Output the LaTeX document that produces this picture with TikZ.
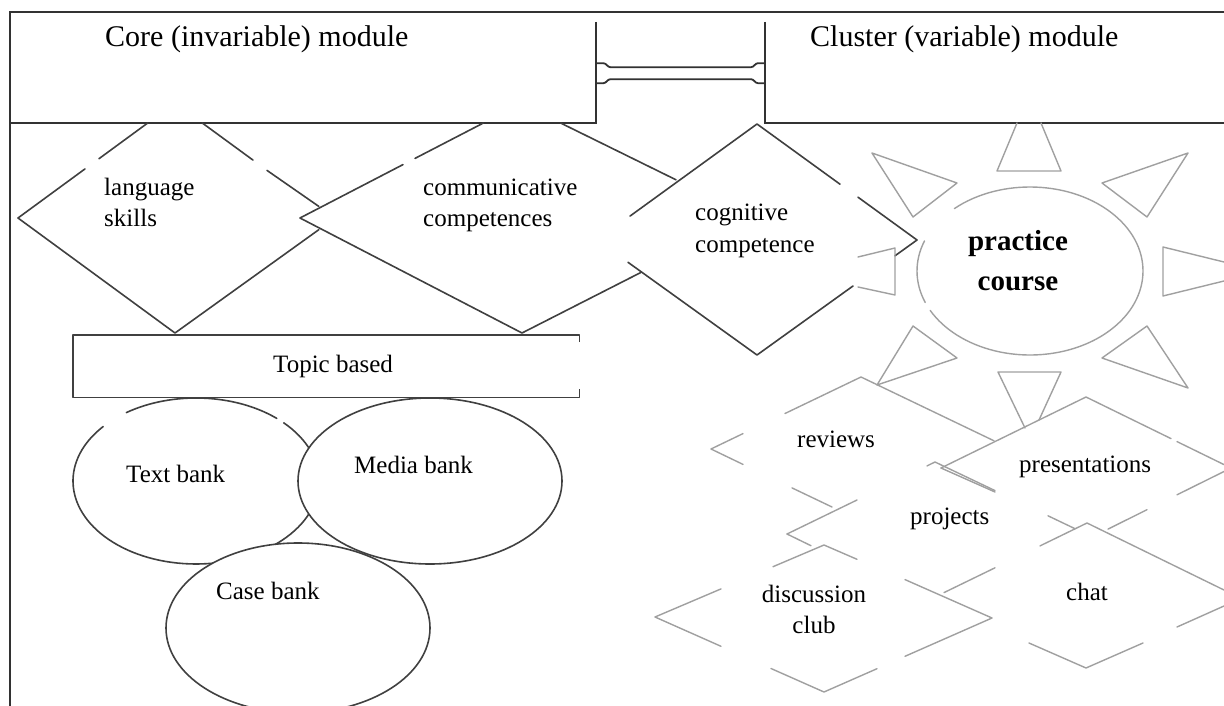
\documentclass[tikz,border=0pt]{standalone}
\usepackage{fontspec}
\setmainfont{Liberation Serif}
\usetikzlibrary{calc}
\definecolor{dkline}{RGB}{64,64,64}
\definecolor{bxline}{RGB}{50,50,50}
\definecolor{ltline}{RGB}{160,160,160}
\begin{document}
\begin{tikzpicture}[x=1pt,y=-1pt,
  dk/.style={draw=dkline, line width=1.6pt, line cap=round, line join=round},
  bx/.style={draw=bxline, line width=2pt},
  lg/.style={draw=ltline, line width=1.4pt, line cap=round, line join=round},
  cn/.style={draw=bxline, line width=1.8pt},
  lbl/.style={font=\fontsize{25}{31}\selectfont, inner sep=0pt, anchor=base west, align=left},
  ttl/.style={font=\fontsize{30}{36}\selectfont, inner sep=0pt, anchor=base west},
  boxnode/.style={minimum width=#1, inner sep=0pt, anchor=north west},
]
\useasboundingbox (0,0) rectangle (1224,706);
\clip (0,0) rectangle (1224,706);
\fill[white] (0,0) rectangle (1224,706);

% outer frame
\draw[bx] (10,706) -- (10,12) -- (1224,12);

% module boxes
\node[boxnode=586pt, minimum height=111pt] (core) at (10,12) {};
\node[boxnode=459pt, minimum height=111pt] (cluster) at (765,12) {};
\draw[bx] ([yshift=-10pt]core.north east) -- (core.south east) -- (core.south west);
\draw[bx] ([yshift=-10pt]cluster.north west) -- (cluster.south west) -- (cluster.south east);

% double connector between the modules
\draw[cn] (core.east) ++(0,-4.5) -- ++(7,0) .. controls +(3,0) and +(-3,0) .. ++(7,4)
  -- ($(cluster.west)+(-14,-0.5)$) .. controls +(3,0) and +(-3,0) .. ++(7,-4) -- ++(7,0);
\draw[cn] (core.east) ++(0,15.5) -- ++(7,0) .. controls +(3,0) and +(-3,0) .. ++(7,-4)
  -- ($(cluster.west)+(-14,11.5)$) .. controls +(3,0) and +(-3,0) .. ++(7,4) -- ++(7,0);

% language skills diamond
\draw[dk] (147.7,123) -- (99,158.7);
\draw[dk] (85,168.9) -- (18,218) -- (175,333) -- (318.8,229.7);
\draw[dk] (202.3,123) -- (253,160.1);
\draw[dk] (267,170.4) -- (318.8,206.4);
% communicative competences diamond
\draw[dk] (483.4,123) -- (415,158.4);
\draw[dk] (403,164.6) -- (300,218) -- (522,333) -- (640.8,272.5);
\draw[dk] (560.6,123) -- (676,179.8);
% cognitive competence diamond
\draw[dk] (630,216.1) -- (757,124) -- (840,184.2);
\draw[dk] (858,197.2) -- (917,240) -- (895,255.8);
\draw[dk] (853,286) -- (757,355) -- (628,262.3);

% topic box
\node[boxnode=506pt, minimum height=62pt] (topic) at (73,335) {};
\draw[dk, line cap=butt] ([yshift=-7pt]topic.north east) -- (topic.north east) -- (topic.north west)
  -- (topic.south west) -- (topic.south east) -- ([yshift=8pt]topic.south east);

% banks
\draw[dk] (196,481) ++(-124.5:123 and 83) arc[start angle=-124.5, end angle=-49, x radius=123, y radius=83];
\draw[dk] (196,481) ++(-44.5:123 and 83) arc[start angle=-44.5, end angle=221, x radius=123, y radius=83];
\draw[dk, fill=white] (430,481) ellipse [x radius=132, y radius=83];
\draw[dk, fill=white] (298,628) ellipse [x radius=132, y radius=85];

% sun around practice course
\draw[lg] (1030,271) ++(-132:113 and 84) arc[start angle=-132, end angle=152, x radius=113, y radius=84];
\draw[lg] (1030,271) ++(158:113 and 84) arc[start angle=158, end angle=201, x radius=113, y radius=84];
\draw[lg] (1017,123) -- (997,171) -- (1061,171) -- (1041,123);
\draw[lg] (1188,153) -- (1102,183) -- (1147,217) -- cycle;
\draw[lg] (1224,262) -- (1163,247) -- (1163,296) -- (1224,281);
\draw[lg] (1102,358) -- (1147,326) -- (1188,388) -- cycle;
\draw[lg] (1025,428) -- (998,372) -- (1061,372) -- (1039,420);
\draw[lg] (913,326) -- (957,358) -- (877,385) -- cycle;
\draw[lg] (858,257) -- (895,248) -- (895,295) -- (858,287);
\draw[lg] (872,153) -- (957,183) -- (913,217) -- cycle;

% cluster diamonds
% reviews
\draw[lg] (785,413.5) -- (861,377) -- (994,440.8);
\draw[lg] (743,433.6) -- (711,449) -- (743,464.4);
\draw[lg] (792,487.9) -- (832,507);
% presentations
\draw[lg] (941,468) -- (1086,397) -- (1171,438.6);
\draw[lg] (1177,441.6) -- (1224,464.6);
\draw[lg] (941,468) -- (995,492);
\draw[lg] (1108,529.1) -- (1147,509.7);
\draw[lg] (1177,494.8) -- (1224,471.5);
% projects
\draw[lg] (787,534) -- (857,500);
\draw[lg] (927,465.9) -- (935,462) -- (995,490.6);
\draw[lg] (1048,515.8) -- (1075,528.7);
\draw[lg] (787,534) -- (811,545.7);
% discussion club
\draw[lg] (773,566.7) -- (824,545) -- (857,559.3);
\draw[lg] (721,588.9) -- (655,617) -- (721,646.3);
\draw[lg] (771,668.5) -- (824,692) -- (877,668.7);
\draw[lg] (905,579.6) -- (992,618) -- (905,656.3);
% chat
\draw[lg] (1040,545.9) -- (1087,523) -- (1224,590);
\draw[lg] (944,592.6) -- (995,567.8);
\draw[lg] (1029,643) -- (1086,668) -- (1143,643);
\draw[lg] (1177,627) -- (1224,606);

% texts (multi-line nodes are placed by the baseline of their last line)
\node[ttl] (coretitle) at (105,47) {Core (invariable) module};
\node[ttl] (clustertitle) at (810,47) {Cluster (variable) module};
\node[lbl] (langtxt) at (104,226) {language\\skills};
\node[lbl] (commtxt) at (423,226) {communicative\\competences};
\node[lbl, font=\fontsize{25}{32}\selectfont] (cogtxt) at (695,252) {cognitive\\competence};
\node[lbl] (topictxt) at (273,372) {Topic based};
\node[lbl] (texttxt) at (126,482) {Text bank};
\node[lbl] (mediatxt) at (354,473) {Media bank};
\node[lbl] (casetxt) at (216,599) {Case bank};
\node[font=\bfseries\fontsize{29}{40}\selectfont, align=center, anchor=base, inner sep=0pt] (practxt) at (1018,290) {practice\\course};
\node[lbl] (revtxt) at (797,447) {reviews};
\node[lbl] (prestxt) at (1019,472) {presentations};
\node[lbl] (projtxt) at (910,524) {projects};
\node[lbl, align=center, anchor=base] (disctxt) at (814,633) {discussion\\club};
\node[lbl, anchor=base] (chattxt) at (1087,600) {chat};
\end{tikzpicture}
\end{document}
